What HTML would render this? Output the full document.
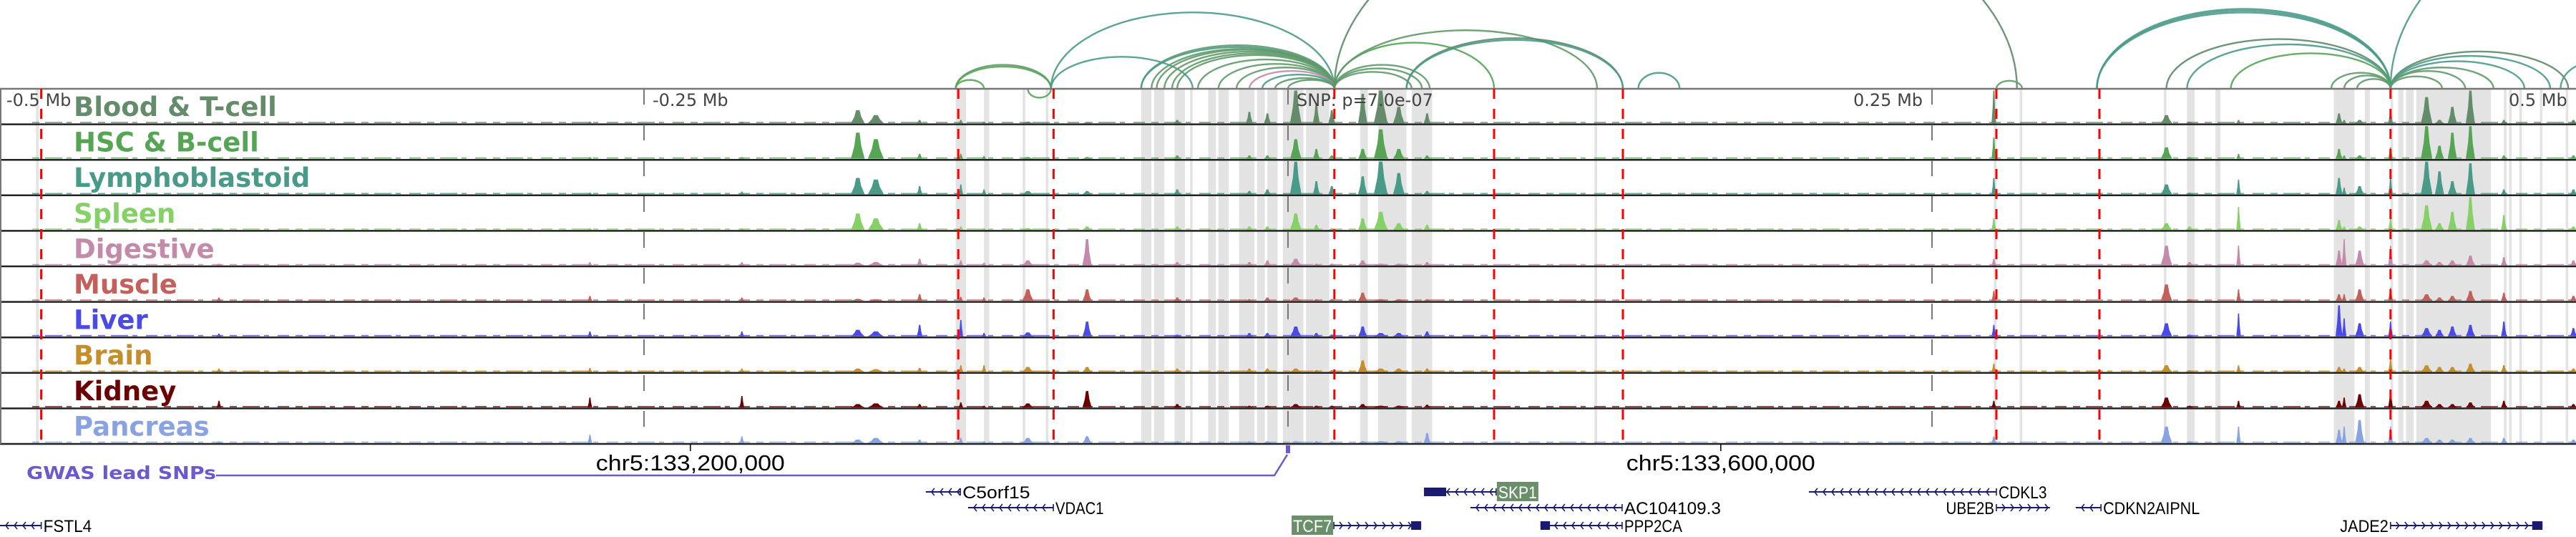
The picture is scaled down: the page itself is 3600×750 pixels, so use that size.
<!DOCTYPE html>
<html><head><meta charset="utf-8"><style>
html,body{margin:0;padding:0;background:#fff;width:3600px;height:750px;overflow:hidden}
svg{display:block}
</style></head><body>
<svg id="chart" width="3600" height="750" viewBox="0 0 3600 750" xmlns="http://www.w3.org/2000/svg">
<g id="bands"></g>
<g id="arcs"></g>
<g id="tracks"></g>
<g id="vlines"></g>
<g id="labels"></g>
<g id="genes"></g>
</svg>
<script>
// ---------- data ----------
const trackNames = ["Blood & T-cell","HSC & B-cell","Lymphoblastoid","Spleen","Digestive","Muscle","Liver","Brain","Kidney","Pancreas"];
const trackColors = ["#648c6a","#55a555","#4a9a8a","#86d068","#c48aaa","#c4605a","#4a4ae6","#c48e2c","#6b0000","#88a2e2"];
// peak positions, kb relative to lead SNP
const peakKb = [-415,-271,-212,-167,-160,-143,-127,-118,-101,-78,-43,-15,-8,3,11,17,29,36,43,54,274,341,350,369,408,410,416,428,442,447,452,459,472,499];
const peakWidth = [4,4,4,12,14,5,4,4,10,8,6,6,6,10,6,6,8,12,10,6,4,10,6,4,6,4,8,4,10,8,8,8,5,6];
// heights as fraction of track height, one array per track
const hBlood = [.03,.05,.05,.40,.25,.10,.10,.05,.05,.03,.10,.35,.30,1.0,.60,.40,.90,1.0,.50,.30,1.0,.25,.05,.10,.30,.10,.10,.40,.80,.10,.50,1.0,.10,.10];
const hHSC   = [.03,.05,.05,.80,.60,.15,.15,.08,.05,.05,.10,.10,.10,.60,.30,.10,.30,.90,.30,.10,.65,.35,.05,.15,.30,.10,.10,.35,1.0,.40,.80,1.0,.10,.10];
const hLymph = [.03,.05,.08,.50,.45,.25,.30,.15,.10,.10,.15,.10,.15,1.0,.40,.25,.55,1.0,.65,.10,.50,.30,.05,.45,.50,.20,.25,.50,1.0,.70,.40,.95,.15,.15];
const hSpleen= [.03,.05,.05,.50,.35,.20,.10,.05,.05,.10,.10,.10,.10,.50,.15,.05,.35,.55,.20,.15,.35,.20,.10,.70,.30,.10,.10,.35,.75,.20,.55,1.0,.45,.10];
const hDig   = [.05,.10,.10,.08,.10,.20,.15,.08,.15,.80,.10,.10,.15,.20,.05,.05,.15,.05,.05,.10,.20,.60,.10,.60,.45,.80,.45,.60,.15,.10,.15,.30,.25,.15];
const hMus   = [.10,.15,.10,.06,.05,.20,.12,.10,.35,.35,.10,.05,.10,.10,.05,.05,.25,.05,.05,.05,.30,.50,.05,.35,.20,.20,.35,.40,.20,.10,.15,.30,.25,.15];
const hLiver = [.08,.15,.15,.20,.15,.35,.50,.10,.12,.45,.05,.10,.10,.30,.10,.05,.30,.10,.10,.15,.35,.40,.05,.70,.95,.55,.40,.45,.25,.20,.30,.35,.45,.25];
const hBrain = [.10,.12,.10,.10,.08,.12,.20,.20,.15,.15,.10,.10,.10,.10,.05,.05,.35,.10,.10,.10,.25,.20,.05,.20,.15,.10,.15,.40,.20,.15,.15,.25,.20,.10];
const hKidney= [.20,.30,.35,.10,.12,.10,.15,.05,.12,.50,.10,.05,.05,.10,.05,.05,.10,.05,.05,.08,.20,.30,.05,.20,.20,.30,.40,.50,.20,.10,.10,.15,.20,.10];
const hPanc  = [.05,.25,.20,.10,.15,.10,.15,.05,.15,.20,.05,.05,.05,.05,.05,.05,.05,.05,.05,.30,.20,.50,.05,.50,.40,.50,.70,.50,.15,.10,.10,.15,.15,.10];
const trackHeights = [hBlood,hHSC,hLymph,hSpleen,hDig,hMus,hLiver,hBrain,hKidney,hPanc];
// loops: start kb, end kb, apex (fraction of arc area height; >1 goes off top)
const arcStart = [-129,-129,-129,-92,-92,-57,-57,-53,-51,-48,-45,-43,-35,-27,-20,-15,-10,-5,0,-92,18,18,18,18,18,46,46,136,18,275,314,314,314,341,349,366,405,410,415,428,428,428,428,428,428,428,494];
const arcEnd   = [-92,-92,-118,18,-37,18,18,18,18,18,18,18,18,18,18,18,18,18,18,-101,80,55,52,48,120,130,130,152,283,285,428,428,428,428,428,428,428,428,428,497,490,480,468,457,448,600,520];
const arcApex  = [.27,.25,.10,.86,.36,.49,.47,.45,.44,.42,.40,.38,.33,.28,.24,.20,.16,.12,.10,.10,.52,.27,.23,.19,.66,.57,.55,.18,2.3,.09,.90,.88,.86,.56,.50,.40,.18,.15,.11,.42,.37,.31,.24,.20,.14,2.0,.30];
const arcColors= ["#5f9a6a","#55a555","#55a555","#4a9a8a","#4a9a8a","#5f9a6a","#4a9a8a","#5f9a6a","#5f9a6a","#5f9a6a","#5f9a6a","#5f9a6a","#5f9a6a","#5f9a6a","#5f9a6a","#c48aaa","#4a9a8a","#5f9a6a","#5f9a6a","#55a555","#55a555","#5f9a6a","#5f9a6a","#5f9a6a","#5f9a6a","#5f8a6a","#4a9a8a","#4a9a8a","#5f8a6a","#5f9a6a","#4a9a8a","#4a9a8a","#4a9a8a","#5f8a6a","#4a9a8a","#55a555","#5f9a6a","#5f9a6a","#5f9a6a","#5f8a6a","#4a9a8a","#4a9a8a","#5f9a6a","#5f9a6a","#5f9a6a","#4a9a8a","#4a9a8a"];
// highlighted regions [kb start, kb end]
const bandStart = [-486,-129,-118,-103,-94,-57,-52,-50,-44,-38,-31,-27,-19,-15,-12,-8,-2,1,7,28,35,48,119,274,284,340,349,360,406,407,418,428,431,434,438,441,448,453,458,463,472,474,478,486,496];
const bandEnd   = [-485,-125,-116,-102,-93,-53,-50,-48,-40,-37,-28,-23,-15,-13,-9,-4,1,6,16,31,46,56,120,275,285,341,352,362,410,414,420,429,433,437,443,453,458,463,467,464,473,475,479,487,497];
// red dashed lines (kb) and axis ticks
const redKb = [-484,-128,-91,18,80,130,275,315,428];
const tickKb = [-250,0,250];
const tickLabels = ["-0.5 Mb","-0.25 Mb","SNP: p=7.0e-07","0.25 Mb","0.5 Mb"];
// genes
const geneNames = ["FSTL4","C5orf15","VDAC1","TCF7","SKP1","AC104109.3","PPP2CA","CDKL3","UBE2B","CDKN2AIPNL","JADE2"];
const geneStart = [-500,-140.6,-124.2,17.8,52.8,70.8,98,202.2,275,305.8,428];
const geneEnd   = [-484,-127.2,-91.1,51.7,80.8,129.7,129.7,275,295.8,315.6,487];
const geneStrand= [-1,-1,-1,1,-1,-1,-1,-1,1,-1,1];
const geneRow   = [3,1,2,3,1,2,3,1,2,2,3];
const geneHighlight = [0,0,0,1,1,0,0,0,0,0,0];
const exonStart = [null,null,null,47.8,52.8,null,98,null,null,null,483];
const exonEnd   = [null,null,null,51.7,61.4,null,101.7,null,null,null,487];

// ---------- scales ----------
const X0 = 1800, PXKB = 3.6;
const xs = kb => X0 + kb*PXKB;
const TOP = 124, TH = 49.6, NT = 10;
const NS = "http://www.w3.org/2000/svg";
function mk(tag, attrs, parent){const e=document.createElementNS(NS,tag);for(const k in attrs)e.setAttribute(k,attrs[k]);parent.appendChild(e);return e;}

// bands
const gB = document.getElementById('bands');
bandStart.forEach((s,i)=>{
  const r = mk('rect',{x:xs(s),y:TOP,width:Math.max(2,xs(bandEnd[i])-xs(s)),height:TH*NT,fill:'#e3e3e3'},gB);
  
  
});

// arcs
const gA = document.getElementById('arcs');
arcStart.forEach((s,i)=>{
  const x1 = xs(s), x2 = xs(arcEnd[i]);
  const rx = Math.abs(x2-x1)/2, ry = arcApex[i]*TOP;
  const p = mk('path',{d:`M${x1},${TOP} A${rx},${ry} 0 0 1 ${x2},${TOP}`,fill:'none',stroke:arcColors[i],'stroke-width':2.4,'stroke-opacity':0.9},gA);
  
  
});

// tracks
const gT = document.getElementById('tracks');
trackHeights.forEach((hs,t)=>{
  const top = TOP + t*TH, base = top + TH - 1.5;
  const g = mk('g',{},gT);
  
  
  mk('line',{x1:45,y1:base-1,x2:3600,y2:base-1,stroke:trackColors[t],'stroke-width':1.6,'stroke-opacity':0.85,'stroke-dasharray':'10 8 24 6 7 12 16 9'},g);
  hs.forEach((h,j)=>{
    const x = xs(peakKb[j]), w = peakWidth[j]*1.6, hp = h*(TH-4);
    const pg = mk('polygon',{points:`${x-w/2},${base} ${x-w/4},${base-hp*0.5} ${x-w/8},${base-hp} ${x+w/8},${base-hp} ${x+w/4},${base-hp*0.5} ${x+w/2},${base}`,fill:trackColors[t]},g);
    
    
  });
  const sep = mk('line',{x1:0,y1:top+TH,x2:3600,y2:top+TH,stroke:'#222','stroke-width':2.5},g);
  
  
});
mk('line',{x1:0,y1:TOP,x2:3600,y2:TOP,stroke:'#777','stroke-width':2.5},gT);
mk('line',{x1:1,y1:TOP,x2:1,y2:TOP+TH*NT,stroke:'#777','stroke-width':2},gT);

// vertical marker lines
const gV = document.getElementById('vlines');
tickKb.forEach(k=>{
  const l = mk('line',{x1:xs(k),y1:TOP,x2:xs(k),y2:TOP+TH*NT,stroke:'#777','stroke-width':2,'stroke-dasharray':'22 28'},gV);
  
  
});
redKb.forEach(k=>{
  const l = mk('line',{x1:xs(k),y1:TOP,x2:xs(k),y2:TOP+TH*NT,stroke:'#f00','stroke-width':3,'stroke-dasharray':'14 14'},gV);
  
  
});

// labels
const gL = document.getElementById('labels');
const tickX = [9,912,1812,2590,3506];
tickLabels.forEach((s,i)=>{
  const tx = mk('text',{x:tickX[i],y:148,'font-family':'DejaVu Sans, sans-serif','font-size':24,fill:'#444'},gL);
  tx.textContent = s;
  
  
});
trackNames.forEach((n,t)=>{
  const tx = mk('text',{x:103,y:TOP+t*TH+38,'font-family':'DejaVu Sans, sans-serif','font-weight':'bold','font-size':37,fill:trackColors[t]},gL);
  tx.textContent = n;
  
  
});

// coordinate labels
const gG = document.getElementById('genes');
const coordKb = [-232,168], coordText = ["chr5:133,200,000","chr5:133,600,000"];
coordKb.forEach((k,i)=>{
  mk('line',{x1:xs(k),y1:TOP+TH*NT,x2:xs(k),y2:TOP+TH*NT+10,stroke:'#000','stroke-width':1.5},gG);
  const tx = mk('text',{x:xs(k),y:657,'text-anchor':'middle','font-family':'Liberation Sans Narrow, Liberation Sans, sans-serif','font-size':31,fill:'#000',textLength:264,lengthAdjust:'spacingAndGlyphs'},gG);
  tx.textContent = coordText[i];
  
  
});

// GWAS
const gw = mk('text',{x:37,y:669,'font-family':'DejaVu Sans, sans-serif','font-weight':'bold','font-size':25,fill:'#6a5acd',textLength:265,lengthAdjust:'spacingAndGlyphs'},gG);
gw.textContent = 'GWAS lead SNPs';


const snpKb = [0];
snpKb.forEach(k=>{
  const p = mk('path',{d:`M302,664 L${xs(k)-19},664 L${xs(k)-1},635`,fill:'none',stroke:'#6a5acd','stroke-width':2.5},gG);
  
  
  const r = mk('rect',{x:xs(k)-3,y:622,width:6,height:11,fill:'#6a5acd'},gG);
  
  
});

// genes
const rowY = {1:687,2:709,3:734};
geneNames.forEach((n,i)=>{
  const g = mk('g',{},gG);
  
  
  const x1 = xs(geneStart[i]), x2 = xs(geneEnd[i]), y = rowY[geneRow[i]];
  mk('line',{x1:x1,y1:y,x2:x2,y2:y,stroke:'#1a1a6e','stroke-width':2},g);
  let d='';
  for(let x=x1+8;x<x2-4;x+=12){
    if(geneStrand[i]<0) d+=`M${x+4},${y-5} L${x},${y} L${x+4},${y+5} `;
    else d+=`M${x},${y-5} L${x+4},${y} L${x},${y+5} `;
  }
  mk('path',{d:d,fill:'none',stroke:'#1a1a6e','stroke-width':1.6},g);
  mk('line',{x1:geneStrand[i]<0?x2:x1,y1:y-5,x2:geneStrand[i]<0?x2:x1,y2:y+5,stroke:'#1a1a6e','stroke-width':1.6},g);
  if(exonStart[i]!==null){
    mk('rect',{x:xs(exonStart[i]),y:y-6,width:xs(exonEnd[i])-xs(exonStart[i]),height:12,fill:'#1a1a6e'},g);
  }
  const left = geneStrand[i]>0;
  const tw = n.length*13.5;
  const tx0 = left ? x1-3-tw : x2+3;
  if(geneHighlight[i]){
    mk('rect',{x:tx0-2,y:y-14,width:tw+4,height:27,fill:'#6a8f6a'},g);
  }
  const tx = mk('text',{x:tx0,y:y+9,'font-family':'Liberation Sans Narrow, Liberation Sans, sans-serif','font-size':24,fill:geneHighlight[i]?'#fff':'#000',textLength:tw,lengthAdjust:'spacingAndGlyphs'},g);
  tx.textContent = n;
});
</script>
</body></html>
